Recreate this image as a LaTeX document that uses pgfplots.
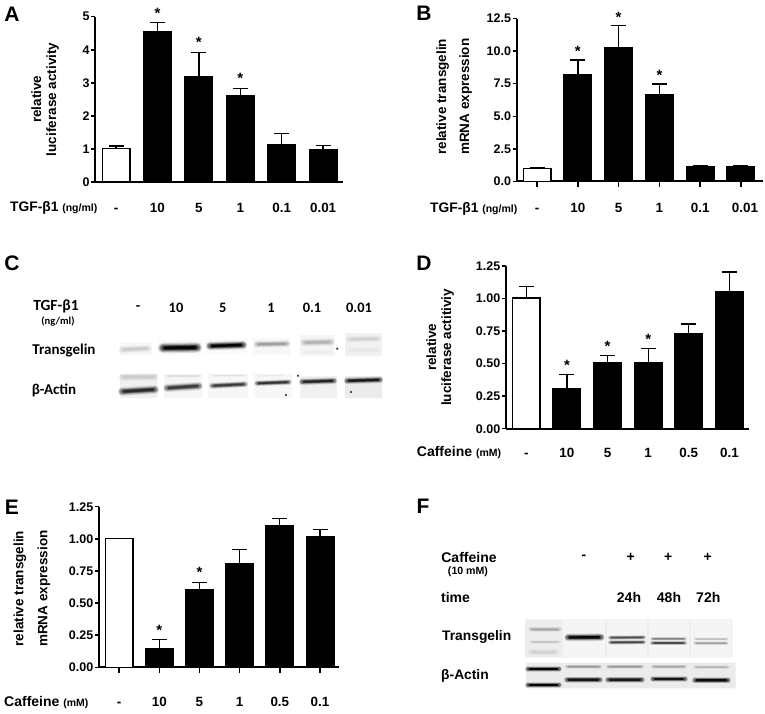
\documentclass[border=0pt]{standalone}
\usepackage{pgfplots}
\usepackage{fontspec}
\pgfplotsset{compat=1.18}
\setmainfont{Liberation Sans}
\newfontfamily\calib{Carlito}
\newcommand{\fs}[1]{\fontsize{#1}{#1}\selectfont\bfseries}
\pgfplotsset{
  barstyle/.style={ybar, bar width=27.5pt, bar shift=0pt, draw=black, line width=1.5pt,
    error bars/y dir=plus, error bars/y explicit,
    error bars/error bar style={line width=1.3pt,black},
    error bars/error mark options={rotate=90,mark size=7.5pt,line width=1.3pt,black}},
  whitebar/.style={barstyle, fill=white},
  blackbar/.style={barstyle, fill=black},
  stars/.style={only marks, mark=text, text mark={\raisebox{-5pt}{\fs{15}*}}},
  xtickmarks/.style={only marks, mark=|, mark size=2.5pt, black, mark options={yshift=-3.5pt, line width=1.5pt, draw=black}},
  panel/.style={scale only axis, anchor=south west, clip=false,
    axis x line=bottom, axis y line=left, axis line style={-,line width=1.7pt},
    tick align=outside, major tick length=4pt, ytick style={line width=1.5pt,black},
    xtick style={draw=none},
    xmin=-0.5, xmax=5.48, xtick={0,1,2,3,4,5}, ymin=0,
    scaled y ticks=false, /pgf/number format/assume math mode=true,
    yticklabel style={font=\fontsize{12.5}{12.5}\selectfont\bfseries, inner sep=1.5pt},
    xticklabel style={font=\fontsize{13.4}{13.4}\selectfont\bfseries, anchor=center, text height=9pt, text depth=0pt, inner sep=0pt},
    ylabel style={font=\fontsize{13.5}{15}\selectfont\bfseries, align=center, anchor=center},
  },
}
% a soft-edged blot band: [tilt], x1, x2, y (mid), thickness, darkness
\newcommand{\band}[6][0.6]{%
  \pgfmathsetmacro{\ya}{#4+#1}\pgfmathsetmacro{\yb}{#4-#1}%
  \addplot[draw=black!#6, opacity=0.12, line width=1.9*#5pt, line cap=round] coordinates {(#2,\ya) (#3,\yb)};
  \addplot[draw=black!#6, opacity=0.2, line width=1.5*#5pt, line cap=round] coordinates {(#2,\ya) (#3,\yb)};
  \addplot[draw=black!#6, opacity=0.3, line width=1.15*#5pt, line cap=round] coordinates {(#2,\ya) (#3,\yb)};
  \addplot[draw=black!#6, opacity=0.5, line width=0.85*#5pt, line cap=round, shorten <=1pt, shorten >=1pt] coordinates {(#2,\ya) (#3,\yb)};
  \addplot[draw=black!#6, opacity=0.9, line width=0.55*#5pt, line cap=round, shorten <=2pt, shorten >=2pt] coordinates {(#2,\ya) (#3,\yb)};
}
\newcommand{\blot}[5]{%
  \addplot[draw=none, fill=black!#5] coordinates {(#1,#3) (#2,#3) (#2,#4) (#1,#4) (#1,#3)};
}
\begin{document}
\begin{tikzpicture}
\path[use as bounding box] (0,0) rectangle (765pt,713pt);

% A
\begin{axis}[panel, at={(95.3pt,531pt)}, width=247.7pt, height=165.3pt, ymax=5,
  ytick={0,1,2,3,4,5},
  xticklabels={-,10,5,1,0.1,0.01}, xticklabel style={yshift=-22pt},
  ylabel={relative\\luciferase activity},
  ylabel style={at={(axis description cs:-0.203,0.5)}}]
\addplot[whitebar] coordinates {(0,1.01) +- (0,0.08)};
\addplot[blackbar] coordinates {(1,4.54) +- (0,0.28) (2,3.19) +- (0,0.73) (3,2.61) +- (0,0.21) (4,1.12) +- (0,0.35) (5,0.97) +- (0,0.13)};
\addplot[stars] coordinates {(1,5.09) (2,4.22) (3,3.13)};
\end{axis}

% B
\begin{axis}[panel, at={(516.7pt,531.7pt)}, width=246.3pt, height=162.6pt, ymax=12.5,
  xmin=-0.5, xmax=5.54,
  ytick={0,2.5,5,7.5,10,12.5}, yticklabel style={/pgf/number format/fixed,/pgf/number format/fixed zerofill,/pgf/number format/precision=1},
  xticklabels={-,10,5,1,0.1,{\hspace*{8pt}0.01}}, xticklabel style={yshift=-23pt},
  ylabel={relative transgelin\\[8pt]mRNA expression},
  ylabel style={at={(axis description cs:-0.254,0.52)}}]
\addplot[whitebar] coordinates {(0,1.0) +- (0,0.05)};
\addplot[blackbar] coordinates {(1,8.2) +- (0,1.13) (2,10.23) +- (0,1.74) (3,6.64) +- (0,0.85) (4,1.08) +- (0,0.1) (5,1.1) +- (0,0.1)};
\addplot[stars] coordinates {(1,9.97) (2,12.6) (3,8.18)};
\addplot[xtickmarks] coordinates {(0,0) (1,0) (2,0) (3,0) (4,0) (5,0)};
\end{axis}

% D
\begin{axis}[panel, at={(506pt,284.3pt)}, width=243.3pt, height=162.7pt, ymax=1.25,
  xmin=-0.5, xmax=5.49,
  ytick={0,0.25,0.5,0.75,1,1.25}, yticklabel style={/pgf/number format/fixed,/pgf/number format/fixed zerofill,/pgf/number format/precision=2},
  xticklabels={-,10,5,1,0.5,0.1}, xticklabel style={yshift=-20pt},
  ylabel={relative\\luciferase actitiviy},
  ylabel style={at={(axis description cs:-0.271,0.5)}}]
\addplot[whitebar] coordinates {(0,1.004) +- (0,0.086)};
\addplot[blackbar] coordinates {(1,0.305) +- (0,0.112) (2,0.507) +- (0,0.053) (3,0.507) +- (0,0.11) (4,0.73) +- (0,0.074) (5,1.055) +- (0,0.149)};
\addplot[stars] coordinates {(1,0.484) (2,0.63) (3,0.689)};
\end{axis}

% E
\begin{axis}[panel, at={(99pt,45.7pt)}, width=240.3pt, height=160.6pt, ymax=1.25,
  xmin=-0.5, xmax=5.48,
  ytick={0,0.25,0.5,0.75,1,1.25}, yticklabel style={/pgf/number format/fixed,/pgf/number format/fixed zerofill,/pgf/number format/precision=2},
  xticklabels={-,10,5,1,0.5,0.1}, xticklabel style={yshift=-31pt},
  ylabel={relative transgelin\\[9pt]mRNA expression},
  ylabel style={at={(axis description cs:-0.279,0.49)}}]
\addplot[whitebar] coordinates {(0,1.004) +- (0,0)};
\addplot[blackbar] coordinates {(1,0.148) +- (0,0.07) (2,0.604) +- (0,0.055) (3,0.807) +- (0,0.111) (4,1.105) +- (0,0.054) (5,1.02) +- (0,0.054)};
\addplot[stars] coordinates {(1,0.285) (2,0.737)};
\addplot[xtickmarks] coordinates {(0,0) (1,0) (2,0) (3,0) (4,0) (5,0)};
\end{axis}

% overlay in image pixels: blots and free text
\begin{axis}[scale only axis, anchor=south west, at={(0,0)}, width=765pt, height=713pt,
  xmin=0, xmax=765, ymin=0, ymax=713, y dir=reverse, hide axis, clip=false]
% blot C, transgelin
\blot{120}{152}{342}{355}{3}
\blot{158}{201}{340}{355}{2}
\blot{205}{247}{339}{353}{2}
\blot{253}{290}{338}{355}{3}
\blot{300}{335}{335}{356}{4}
\blot{345}{382}{333}{356}{5}
\band{122}{148}{349}{4}{20}
\band[0.2]{163}{197}{347.7}{5.5}{100}
\band[0.5]{210}{243}{345.5}{4.5}{100}
\band[0.3]{257}{287}{344}{3.5}{38}
\band[0.3]{304}{331}{342.3}{4}{30}
\band[0.3]{349}{378}{339}{3.5}{18}
\band[0.1]{349}{378}{350}{3}{9}
\band[0.1]{305}{331}{352}{2.5}{8}
% blot C, actin
\blot{120}{157}{374}{398}{6}
\blot{164}{202}{374}{398}{4}
\blot{208}{248}{374}{398}{3}
\blot{254}{292}{374}{398}{3}
\blot{300}{337}{376}{398}{6}
\blot{345}{382}{376}{398}{8}
\band[0.1]{122}{155}{377}{4}{20}
\band[0.1]{167}{199}{376}{1.5}{14}
\band[0.1]{212}{245}{375.5}{1.2}{12}
\band[0.1]{257}{285}{375.5}{1.2}{8}
\band[1]{122}{155}{390.5}{4.5}{85}
\band[1]{167}{199}{387}{4.3}{78}
\band[0.8]{212}{245}{385}{3.3}{78}
\band[0.6]{257}{289}{382.7}{3}{82}
\band[0.5]{302}{334}{381.3}{3.5}{88}
\band[0.5]{347}{380}{380.3}{3.5}{92}
\addplot[only marks, mark=*, mark size=0.9pt, black!80] coordinates {(337.3,348.7) (298,375.7) (351,392) (286,395)};
% blot F, transgelin
\blot{525}{732.3}{619.3}{657.7}{7}
\blot{563}{605}{619.3}{657.7}{4}
\blot{607}{647}{619.3}{657.7}{4}
\blot{649}{689}{619.3}{657.7}{4}
\blot{691}{731}{619.3}{657.7}{4}
\band[0]{531}{559}{629.3}{2.8}{35}
\band[0]{531}{559}{642}{1.8}{24}
\band[0]{531}{556}{652}{3.5}{18}
\band[0.1]{568}{601}{637.3}{4}{100}
\band[0.1]{610}{644}{637.5}{2.3}{70}
\band[0.1]{610}{644}{642.3}{2.3}{75}
\band[0]{652}{685}{638.7}{2}{50}
\band[0]{652}{685}{643}{2.3}{72}
\band[0]{695}{727}{639}{1.8}{25}
\band[0]{695}{727}{643.3}{2}{38}
% blot F, actin
\blot{526}{735.7}{662.7}{688.3}{8}
\band[0]{528}{559}{669}{3.2}{100}
\band[0]{528}{559}{685}{3.2}{100}
\band[0]{567}{600}{666.7}{2.2}{40}
\band[0]{608}{642}{666.7}{2.2}{40}
\band[0]{653}{685}{666.7}{2.2}{35}
\band[0]{695}{728}{667}{2}{28}
\band[0]{567}{600}{679.7}{3.3}{95}
\band[0]{608}{642}{679.7}{3.3}{92}
\band[0]{653}{685}{679}{3.3}{95}
\band[0]{695}{728}{680.3}{3.3}{98}
% panel letters
\node[font=\fs{21},inner sep=0pt] at (axis cs:12,14) {A};
\node[font=\fs{21},inner sep=0pt] at (axis cs:424,13.5) {B};
\node[font=\fs{21},inner sep=0pt] at (axis cs:12,263) {C};
\node[font=\fs{21},inner sep=0pt] at (axis cs:424,263) {D};
\node[font=\fs{21},inner sep=0pt] at (axis cs:12,507) {E};
\node[font=\fs{21},inner sep=0pt] at (axis cs:423,506) {F};
% row titles
\node[inner sep=0pt,anchor=west] at (axis cs:10,207.5) {\fs{13.8}TGF-β1 \fs{10.5}(ng/ml)};
\node[inner sep=0pt,anchor=west] at (axis cs:430,208.5) {\fs{13.8}TGF-β1 \fs{10.5}(ng/ml)};
\node[inner sep=0pt,anchor=west] at (axis cs:416.7,453) {\fs{14}Caffeine \fs{10.5}(mM)};
\node[inner sep=0pt,anchor=west] at (axis cs:4,703) {\fs{14}Caffeine \fs{10.5}(mM)};
% C texts
\node[inner sep=0pt] at (axis cs:56,306) {\calib\fs{15.5}TGF-β1};
\node[inner sep=0pt] at (axis cs:58,321) {\calib\fs{10.5}(ng/ml)};
\node[inner sep=0pt] at (axis cs:138,308) {\calib\fs{14.4}-};
\node[inner sep=0pt] at (axis cs:176,307.7) {\calib\fs{14.4}10};
\node[inner sep=0pt] at (axis cs:222.7,307.7) {\calib\fs{14.4}5};
\node[inner sep=0pt] at (axis cs:271,307.7) {\calib\fs{14.4}1};
\node[inner sep=0pt] at (axis cs:312,307.7) {\calib\fs{14.4}0.1};
\node[inner sep=0pt] at (axis cs:359,307.7) {\calib\fs{14.4}0.01};
\node[inner sep=0pt] at (axis cs:64,350.7) {\calib\fs{15}Transgelin};
\node[inner sep=0pt] at (axis cs:54,390) {\calib\fs{15}β-Actin};
% F texts
\node[inner sep=0pt] at (axis cs:469,557) {\fs{14}Caffeine};
\node[inner sep=0pt] at (axis cs:468,572) {\fs{10.6}(10 mM)};
\node[inner sep=0pt] at (axis cs:584,557.7) {\fs{14}-};
\node[inner sep=0pt] at (axis cs:630.7,557) {\fs{14}+};
\node[inner sep=0pt] at (axis cs:668.3,557) {\fs{14}+};
\node[inner sep=0pt] at (axis cs:707.7,557) {\fs{14}+};
\node[inner sep=0pt] at (axis cs:455.5,597) {\fs{14}time};
\node[inner sep=0pt] at (axis cs:629,597) {\fs{14}24h};
\node[inner sep=0pt] at (axis cs:669,597) {\fs{14}48h};
\node[inner sep=0pt] at (axis cs:708.3,597) {\fs{14}72h};
\node[inner sep=0pt] at (axis cs:476.7,637) {\fs{13.8}Transgelin};
\node[inner sep=0pt] at (axis cs:465,675.7) {\fs{13.8}β-Actin};
\end{axis}
\end{tikzpicture}
\end{document}
